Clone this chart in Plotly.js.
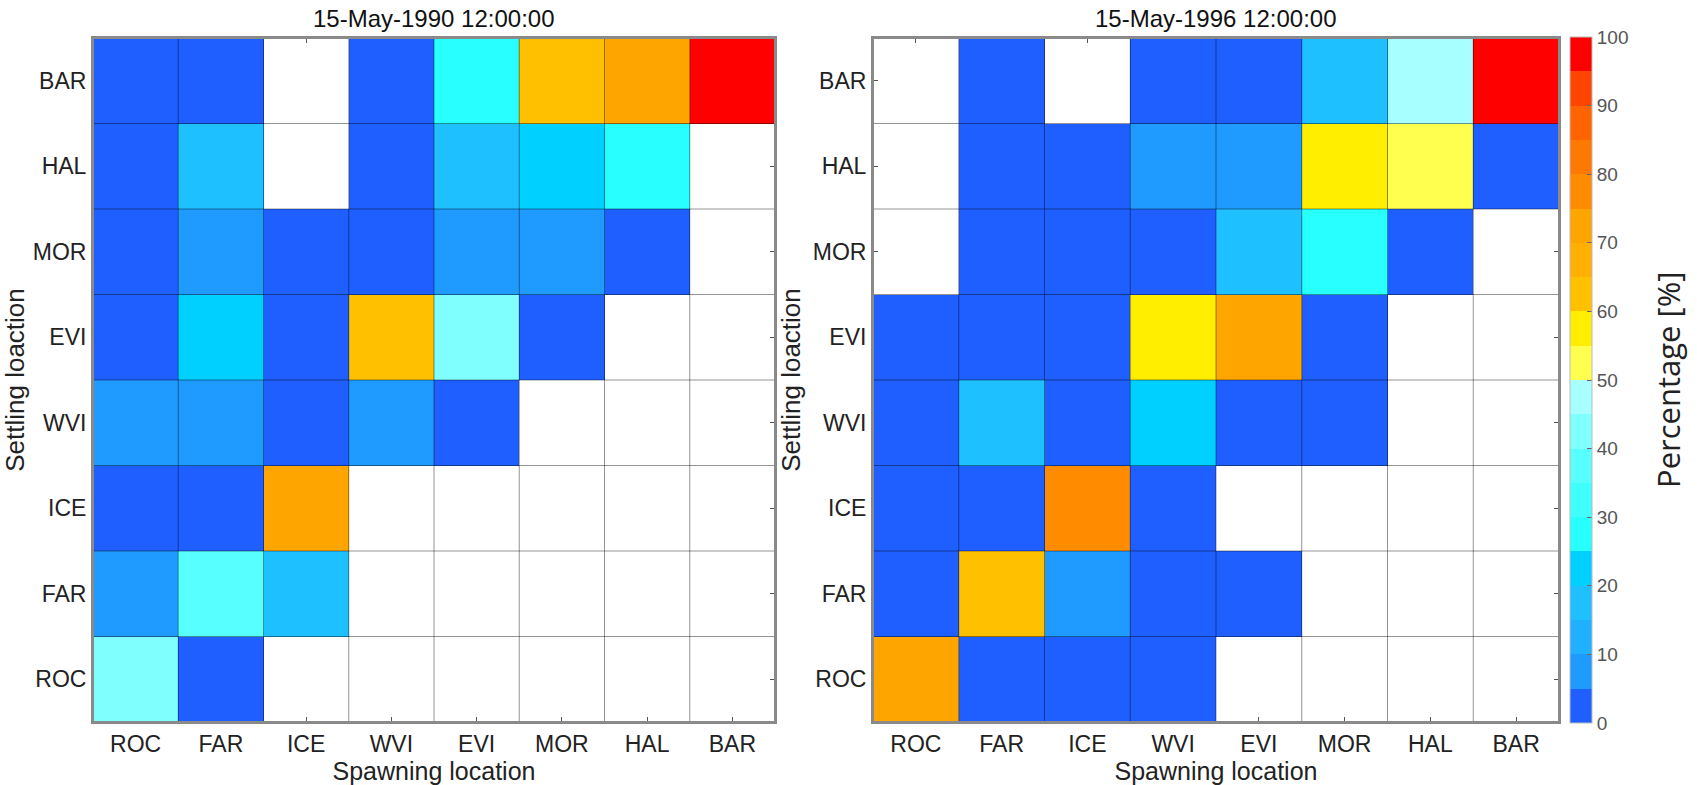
<!DOCTYPE html>
<html>
<head>
<meta charset="utf-8">
<script src="https://cdn.plot.ly/plotly-3.0.1.min.js"></script>
<style>
  html, body { margin: 0; padding: 0; background: #ffffff; }
  #chart { width: 1697px; height: 785px; }
</style>
</head>
<body>
<div id="chart"></div>
<script>
// Categories
const spawning = ['ROC', 'FAR', 'ICE', 'WVI', 'EVI', 'MOR', 'HAL', 'BAR'];
const settling = ['ROC', 'FAR', 'ICE', 'WVI', 'EVI', 'MOR', 'HAL', 'BAR'];

// Titles
const title1990 = '15-May-1990 12:00:00';
const title1996 = '15-May-1996 12:00:00';
const colorbarTitle = 'Percentage [%]';

// Percentages, rows = settling location (bottom ROC -> top BAR), columns = spawning location
const pct1990 = [
  [42, 3, null, null, null, null, null, null],   // ROC
  [8, 37, 17, null, null, null, null, null],     // FAR
  [2, 3, 72, null, null, null, null, null],      // ICE
  [8, 7, 3, 8, 2, null, null, null],             // WVI
  [3, 22, 2, 62, 42, 3, null, null],             // EVI
  [2, 8, 3, 2, 8, 7, 4, null],                   // MOR
  [3, 17, null, 2, 17, 22, 27, null],            // HAL
  [2, 1, null, 2, 28, 62, 71, 98]                // BAR
];
const pct1996 = [
  [72, 3, 2, 3, null, null, null, null],         // ROC
  [2, 63, 8, 2, 3, null, null, null],            // FAR
  [2, 3, 77, 2, null, null, null, null],         // ICE
  [3, 17, 2, 22, 3, 2, null, null],              // WVI
  [2, 3, 2, 57, 72, 3, null, null],              // EVI
  [null, 2, 3, 2, 17, 28, 3, null],              // MOR
  [null, 2, 3, 8, 8, 57, 53, 3],                 // HAL
  [null, 2, null, 2, 3, 17, 47, 97]              // BAR
];

// Discrete colormap, one colour per 5 % band
const bandColors = [
  '#1f5fff', '#1f9bff', '#1fb0ff', '#1fc0ff', '#00d0ff',
  '#28ffff', '#40ffff', '#58ffff', '#80ffff', '#a8ffff',
  '#ffff50', '#ffee00', '#ffc000', '#ffb000', '#ffa500',
  '#ff8c00', '#ff7800', '#ff6400', '#ff4500', '#ff0000'
];
const cbTicks = [0, 10, 20, 30, 40, 50, 60, 70, 80, 90, 100];

const colorscale = [];
bandColors.forEach((c, i) => {
  colorscale.push([i / bandColors.length, c]);
  colorscale.push([(i + 1) / bandColors.length, c]);
});

const W = 1697, H = 785;
const narrow = '"Liberation Sans Narrow", "Liberation Sans", Arial, sans-serif';
const tickFont = { family: narrow, size: 23, color: '#222' };

const traces = [
  { type: 'heatmap', x: spawning, y: settling, z: pct1990, coloraxis: 'coloraxis',
    xaxis: 'x', yaxis: 'y', hoverongaps: false },
  { type: 'heatmap', x: spawning, y: settling, z: pct1996, coloraxis: 'coloraxis',
    xaxis: 'x2', yaxis: 'y2', hoverongaps: false }
];

function axisBase(extra) {
  return Object.assign({
    type: 'category',
    ticks: 'inside', ticklen: 6, tickcolor: '#555', tickwidth: 1,
    showline: true, linecolor: '#888', linewidth: 1, mirror: 'ticks',
    layer: 'below traces', showgrid: false, zeroline: false,
    tickfont: tickFont, fixedrange: true
  }, extra);
}

// cell borders and frames, derived from the category counts
const shapes = [];
[['x', 'y'], ['x2', 'y2']].forEach(([xr, yr]) => {
  for (let i = 1; i < spawning.length; i++) {
    shapes.push({ type: 'line', xref: xr, yref: yr, x0: i - 0.5, x1: i - 0.5, y0: -0.5, y1: settling.length - 0.5,
      line: { color: 'rgba(0,0,0,0.42)', width: 1 }, layer: 'above' });
  }
  for (let j = 1; j < settling.length; j++) {
    shapes.push({ type: 'line', xref: xr, yref: yr, y0: j - 0.5, y1: j - 0.5, x0: -0.5, x1: spawning.length - 0.5,
      line: { color: 'rgba(0,0,0,0.42)', width: 1 }, layer: 'above' });
  }
  shapes.push({ type: 'rect', xref: xr, yref: yr, x0: -0.5, x1: spawning.length - 0.5, y0: -0.5, y1: settling.length - 0.5,
    line: { color: '#8a8a8a', width: 2 }, layer: 'above' });
});

const yDom = [(H - 723) / H, (H - 37) / H];
const xTitle = { text: 'Spawning location', font: { family: narrow, size: 25, color: '#222' }, standoff: 6 };
const yTitle = { text: 'Settling loaction', font: { family: '"Liberation Sans", Arial, sans-serif', size: 26, color: '#222' }, standoff: 4 };

const layout = {
  width: W, height: H,
  margin: { l: 0, r: 0, t: 0, b: 0 },
  paper_bgcolor: '#ffffff', plot_bgcolor: '#ffffff',
  showlegend: false,
  xaxis: axisBase({ domain: [92 / W, 776 / W], anchor: 'y', title: xTitle }),
  yaxis: axisBase({ domain: yDom, anchor: 'x', title: yTitle }),
  xaxis2: axisBase({ domain: [872 / W, 1560 / W], anchor: 'y2', title: xTitle }),
  yaxis2: axisBase({ domain: yDom, anchor: 'x2', title: yTitle }),
  coloraxis: {
    cmin: 0, cmax: 100, colorscale: colorscale,
    colorbar: {
      x: 1570 / W, xanchor: 'left', xpad: 0,
      y: yDom[1], yanchor: 'top', ypad: 0,
      len: yDom[1] - yDom[0], lenmode: 'fraction',
      thickness: 22, thicknessmode: 'pixels',
      outlinewidth: 1, outlinecolor: '#bbb',
      tickmode: 'array', tickvals: cbTicks, ticktext: cbTicks.map(String),
      ticks: 'inside', ticklen: 5, tickcolor: '#666',
      tickfont: { family: '"Liberation Sans", Arial, sans-serif', size: 19, color: '#555' }
    }
  },
  annotations: [
    { text: title1990, xref: 'paper', yref: 'paper', x: 434 / W, y: (H - 19) / H, xanchor: 'center', yanchor: 'middle',
      showarrow: false, font: { family: narrow, size: 24, color: '#111' } },
    { text: title1996, xref: 'paper', yref: 'paper', x: 1216 / W, y: (H - 19) / H, xanchor: 'center', yanchor: 'middle',
      showarrow: false, font: { family: narrow, size: 24, color: '#111' } },
    { text: colorbarTitle, xref: 'paper', yref: 'paper', x: 1668 / W, y: (H - 380) / H, xanchor: 'center', yanchor: 'middle',
      textangle: -90, showarrow: false, font: { family: '"Open Sans", sans-serif', size: 31, color: '#222' } }
  ],
  shapes: shapes
};

Plotly.newPlot('chart', traces, layout, { displayModeBar: false, staticPlot: true });
</script>
</body>
</html>
